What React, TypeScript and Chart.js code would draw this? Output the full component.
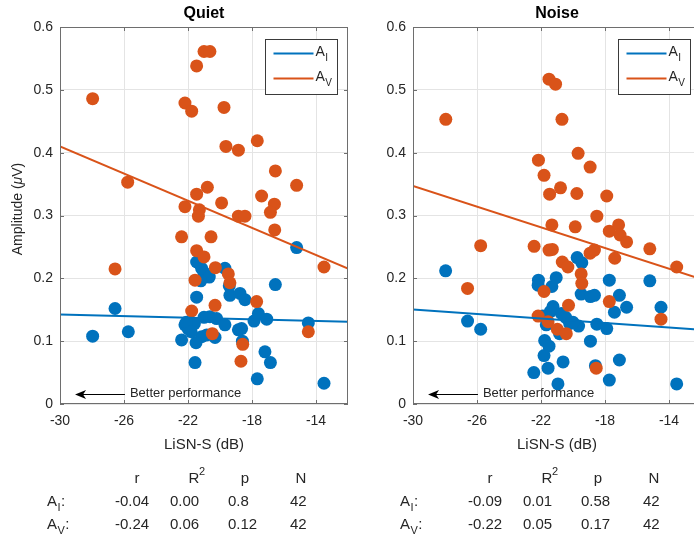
import React, { useEffect, useRef } from "react";
import { Chart, registerables } from "chart.js";
Chart.register(...registerables);

const xTicks = [-30, -26, -22, -18, -14];
const yTicks = [0, 0.1, 0.2, 0.3, 0.4, 0.5, 0.6];
const xRange = [-30, -12];
const yRange = [0, 0.6];

const quietAI: number[][] = [
  [-27.96, 0.108], [-26.56, 0.152], [-25.73, 0.115], [-21.46, 0.226], [-21.15, 0.216], [-21.0, 0.209],
  [-20.67, 0.202], [-21.2, 0.196], [-19.69, 0.216], [-19.42, 0.188], [-19.38, 0.173], [-18.75, 0.176],
  [-18.44, 0.166], [-21.46, 0.17], [-16.54, 0.19], [-15.21, 0.249], [-22.19, 0.126], [-22.0, 0.12],
  [-21.6, 0.128], [-21.0, 0.138], [-20.63, 0.139], [-20.21, 0.136], [-19.69, 0.126], [-20.83, 0.11],
  [-21.15, 0.107], [-20.31, 0.106], [-22.4, 0.102], [-21.5, 0.0975], [-21.56, 0.066], [-18.85, 0.118],
  [-18.65, 0.12], [-17.875, 0.132], [-17.6, 0.144], [-17.08, 0.135], [-17.19, 0.083], [-16.85, 0.066],
  [-17.67, 0.04], [-13.5, 0.033], [-14.48, 0.129], [-18.6, 0.1], [-22.1, 0.13], [-21.8, 0.115],
];
const quietAV: number[][] = [
  [-27.96, 0.486], [-25.77, 0.353], [-21.46, 0.538], [-21.0, 0.561], [-20.63, 0.561], [-22.19, 0.479],
  [-21.77, 0.466], [-19.75, 0.472], [-19.63, 0.41], [-18.85, 0.404], [-17.67, 0.419], [-16.54, 0.371],
  [-15.21, 0.348], [-20.79, 0.345], [-21.46, 0.334], [-22.19, 0.314], [-19.9, 0.32], [-21.29, 0.309],
  [-17.4, 0.331], [-16.6, 0.318], [-16.85, 0.305], [-18.85, 0.299], [-18.44, 0.299], [-21.35, 0.299],
  [-16.58, 0.277], [-22.4, 0.266], [-20.56, 0.266], [-21.46, 0.244], [-21.0, 0.234], [-20.29, 0.217],
  [-19.48, 0.207], [-19.38, 0.193], [-21.56, 0.197], [-26.56, 0.215], [-17.71, 0.163], [-21.77, 0.148],
  [-20.31, 0.157], [-20.48, 0.112], [-18.58, 0.095], [-18.69, 0.068], [-14.48, 0.115], [-13.5, 0.218],
];
const noiseAI: number[][] = [
  [-27.96, 0.212], [-26.59, 0.132], [-25.77, 0.119], [-22.16, 0.197], [-22.18, 0.189], [-21.32, 0.187],
  [-21.05, 0.201], [-19.74, 0.233], [-19.45, 0.225], [-19.49, 0.175], [-18.91, 0.171], [-18.66, 0.173],
  [-17.73, 0.197], [-17.1, 0.173], [-16.65, 0.154], [-17.41, 0.146], [-15.2, 0.196], [-14.5, 0.154],
  [-13.52, 0.032], [-21.25, 0.155], [-21.42, 0.147], [-20.73, 0.144], [-20.46, 0.138], [-21.67, 0.126],
  [-20.21, 0.128], [-19.65, 0.124], [-18.51, 0.127], [-17.89, 0.12], [-21.77, 0.101], [-21.5, 0.092],
  [-20.84, 0.112], [-18.91, 0.1], [-21.81, 0.077], [-21.56, 0.057], [-22.45, 0.05], [-20.62, 0.067],
  [-20.94, 0.032], [-17.1, 0.07], [-17.73, 0.038], [-18.6, 0.061], [-21.9, 0.14], [-20.0, 0.13],
];
const noiseAV: number[][] = [
  [-27.95, 0.453], [-21.5, 0.517], [-21.09, 0.509], [-20.69, 0.453], [-22.16, 0.388], [-21.81, 0.364],
  [-21.46, 0.334], [-20.78, 0.344], [-19.68, 0.399], [-18.93, 0.377], [-19.76, 0.335], [-17.89, 0.331],
  [-18.51, 0.299], [-21.32, 0.285], [-19.86, 0.282], [-17.73, 0.275], [-17.15, 0.285], [-17.06, 0.269],
  [-16.65, 0.258], [-22.43, 0.251], [-21.5, 0.245], [-21.29, 0.246], [-25.77, 0.252], [-18.93, 0.24],
  [-18.66, 0.245], [-17.39, 0.232], [-15.2, 0.247], [-13.52, 0.218], [-20.67, 0.226], [-20.32, 0.218],
  [-19.49, 0.207], [-19.45, 0.192], [-26.59, 0.184], [-21.81, 0.179], [-17.73, 0.163], [-20.28, 0.157],
  [-22.18, 0.14], [-21.56, 0.131], [-20.98, 0.119], [-20.42, 0.112], [-14.5, 0.135], [-18.55, 0.057],
];

const fitX = [-30, -12];
const quietAIFit = [0.1425, 0.131];
const quietAVFit = [0.41, 0.2157];
const noiseAIFit = [0.1505, 0.118];
const noiseAVFit = [0.347, 0.199];

const statHeaders = ["r", "R", "p", "N"];
const quietStatsAI = ["-0.04", "0.00", "0.8", "42"];
const quietStatsAV = ["-0.24", "0.06", "0.12", "42"];
const noiseStatsAI = ["-0.09", "0.01", "0.58", "42"];
const noiseStatsAV = ["-0.22", "0.05", "0.17", "42"];

const BLUE = "#0072BD";
const ORANGE = "#D95319";
const TEXT = "#262626";
const AXIS = "#6e6e6e";
const GRID = "#e4e4e4";
const FF = '"Liberation Sans", Arial, Helvetica, sans-serif';
const f = (size: number, weight = "normal", style = "normal") => `${style} ${weight} ${size}px ${FF}`;

function subText(ctx: CanvasRenderingContext2D, x: number, y: number, main: string, sub: string, size: number, subSize: number, tail = "") {
  ctx.textAlign = "left";
  ctx.textBaseline = "middle";
  ctx.font = f(size);
  ctx.fillText(main, x, y);
  let cx = x + ctx.measureText(main).width;
  ctx.font = f(subSize);
  ctx.fillText(sub, cx + 0.5, y + size * 0.4);
  cx += ctx.measureText(sub).width + 1;
  if (tail) {
    ctx.font = f(size);
    ctx.fillText(tail, cx, y);
  }
}

function makePlugin(opts: any) {
  return {
    id: "decor",
    afterDraw(chart: any) {
      const { ctx, chartArea: ca, scales } = chart;
      const xs = scales.x, ys = scales.y;
      ctx.save();
      // box
      ctx.strokeStyle = AXIS;
      ctx.lineWidth = 1;
      ctx.strokeRect(Math.round(ca.left) + 0.5, Math.round(ca.top) + 0.5, Math.round(ca.width) - 1, Math.round(ca.height) - 1);
      // inner ticks
      ctx.beginPath();
      xTicks.forEach((v) => {
        const px = Math.round(xs.getPixelForValue(v)) + 0.5;
        ctx.moveTo(px, ca.bottom); ctx.lineTo(px, ca.bottom - 4);
        ctx.moveTo(px, ca.top); ctx.lineTo(px, ca.top + 4);
      });
      yTicks.forEach((v) => {
        const py = Math.round(ys.getPixelForValue(v)) + 0.5;
        ctx.moveTo(ca.left, py); ctx.lineTo(ca.left + 4, py);
        ctx.moveTo(ca.right, py); ctx.lineTo(ca.right - 4, py);
      });
      ctx.stroke();

      const cx = (ca.left + ca.right) / 2;
      ctx.fillStyle = "#000";
      // title
      ctx.font = f(16, "bold");
      ctx.textAlign = "center";
      ctx.textBaseline = "middle";
      ctx.fillText(opts.title, cx, ca.top - 13);
      // x label
      ctx.fillStyle = TEXT;
      ctx.font = f(15);
      ctx.fillText("LiSN-S (dB)", cx, 445);
      // y label
      if (opts.showYLabel) {
        ctx.save();
        ctx.translate(18, 209);
        ctx.rotate(-Math.PI / 2);
        const p1 = "Amplitude (", p2 = "\u03BC", p3 = "V)";
        ctx.font = f(14);
        const w1 = ctx.measureText(p1).width;
        const w3 = ctx.measureText(p3).width;
        ctx.font = f(14, "normal", "italic");
        const w2 = ctx.measureText(p2).width;
        let sx = -(w1 + w2 + w3) / 2;
        ctx.textAlign = "left";
        ctx.font = f(14);
        ctx.fillText(p1, sx, 0);
        ctx.font = f(14, "normal", "italic");
        ctx.fillText(p2, sx + w1, 0);
        ctx.font = f(14);
        ctx.fillText(p3, sx + w1 + w2, 0);
        ctx.restore();
      }
      // legend
      const lw = 72, lh = 55;
      const lx = Math.round(ca.right - 11 - lw) + 0.5, ly = Math.round(ca.top + 12) + 0.5;
      ctx.fillStyle = "#fff";
      ctx.fillRect(lx, ly, lw, lh);
      ctx.strokeStyle = "#3a3a3a";
      ctx.lineWidth = 1;
      ctx.strokeRect(lx, ly, lw, lh);
      [[BLUE, "I", 14], [ORANGE, "V", 39]].forEach(([c, s, dy]: any) => {
        ctx.strokeStyle = c;
        ctx.lineWidth = 2;
        ctx.beginPath();
        ctx.moveTo(lx + 8, ly + dy);
        ctx.lineTo(lx + 48, ly + dy);
        ctx.stroke();
        ctx.fillStyle = TEXT;
        subText(ctx, lx + 50, ly + dy - 1, "A", s, 14, 10);
      });
      // arrow + annotation
      const ay = Math.round(ys.getPixelForValue(0.016)) + 0.5;
      const ax1 = xs.getPixelForValue(-29.06);
      const ax2 = xs.getPixelForValue(-25.94);
      ctx.strokeStyle = "#000";
      ctx.lineWidth = 1;
      ctx.beginPath();
      ctx.moveTo(ax1 + 6, ay);
      ctx.lineTo(ax2, ay);
      ctx.stroke();
      ctx.fillStyle = "#000";
      ctx.beginPath();
      ctx.moveTo(ax1, ay);
      ctx.lineTo(ax1 + 11, ay - 4.5);
      ctx.lineTo(ax1 + 8, ay);
      ctx.lineTo(ax1 + 11, ay + 4.5);
      ctx.closePath();
      ctx.fill();
      ctx.fillStyle = TEXT;
      ctx.font = f(13);
      ctx.textAlign = "left";
      ctx.textBaseline = "middle";
      ctx.fillText("Better performance", xs.getPixelForValue(-25.63), ay - 1);
      // stats table
      ctx.fillStyle = TEXT;
      const colX = [115, 170, 228, 290];
      const headX = [137, 194, 245, 301];
      ctx.font = f(15);
      ctx.textAlign = "center";
      statHeaders.forEach((h, i) => ctx.fillText(h, headX[i], 479));
      ctx.font = f(11);
      ctx.textAlign = "left";
      ctx.fillText("2", headX[1] + 5, 472);
      const rows = [["I", opts.statsAI, 502], ["V", opts.statsAV, 525]];
      rows.forEach(([s, vals, y]: any) => {
        subText(ctx, 47, y, "A", s, 15, 11, ":");
        ctx.font = f(15);
        ctx.textAlign = "left";
        vals.forEach((v: string, i: number) => ctx.fillText(v, colX[i], y));
      });
      ctx.restore();
    },
  };
}

function Panel(props: any) {
  const ref = useRef<HTMLCanvasElement>(null);
  useEffect(() => {
    const toPts = (a: number[][]) => a.map(([x, y]) => ({ x, y }));
    const fitPts = (fy: number[]) => fitX.map((x, i) => ({ x, y: fy[i] }));
    const chart = new Chart(ref.current!, {
      type: "scatter",
      data: {
        datasets: [
          { label: "AI pts", data: toPts(props.ai), backgroundColor: BLUE, borderColor: BLUE, borderWidth: 0, pointRadius: 6.5, order: 4 },
          { label: "AV pts", data: toPts(props.av), backgroundColor: ORANGE, borderColor: ORANGE, borderWidth: 0, pointRadius: 6.5, order: 3 },
          { type: "line", label: "AI", data: fitPts(props.aiFit), borderColor: BLUE, borderWidth: 2, pointRadius: 0, showLine: true, fill: false, order: 2 } as any,
          { type: "line", label: "AV", data: fitPts(props.avFit), borderColor: ORANGE, borderWidth: 2, pointRadius: 0, showLine: true, fill: false, order: 1 } as any,
        ],
      },
      options: {
        animation: false,
        responsive: false,
        devicePixelRatio: 1,
        layout: { padding: { left: 0, right: 22, top: 27, bottom: 103 } },
        plugins: { legend: { display: false }, tooltip: { enabled: false } },
        scales: {
          x: {
            type: "linear",
            min: xRange[0],
            max: xRange[1],
            afterBuildTicks: (s: any) => { s.ticks = xTicks.map((value) => ({ value })); },
            afterFit: (s: any) => { s.height = 30; },
            grid: { color: GRID, drawTicks: false },
            border: { display: false },
            ticks: { color: TEXT, font: { family: FF, size: 14 }, padding: 9, callback: (v: any) => String(v) },
          },
          y: {
            type: "linear",
            min: yRange[0],
            max: yRange[1],
            afterBuildTicks: (s: any) => { s.ticks = yTicks.map((value) => ({ value })); },
            afterFit: (s: any) => { s.width = 60; },
            grid: { color: GRID, drawTicks: false },
            border: { display: false },
            ticks: { color: TEXT, font: { family: FF, size: 14 }, padding: 7, callback: (v: any) => (v === 0 ? "0" : Number(v).toFixed(1)) },
          },
        },
      },
      plugins: [makePlugin(props)],
    } as any);
    return () => chart.destroy();
  }, []);
  return <canvas ref={ref} width={370} height={537} style={{ position: "absolute", left: props.left, top: 0 }} />;
}

export default function App() {
  return (
    <div style={{ position: "fixed", left: 0, top: 0, width: 694, height: 537, overflow: "hidden", background: "#fff" }}>
      <Panel left={0} title="Quiet" ai={quietAI} av={quietAV} aiFit={quietAIFit} avFit={quietAVFit} statsAI={quietStatsAI} statsAV={quietStatsAV} showYLabel={true} />
      <Panel left={353} title="Noise" ai={noiseAI} av={noiseAV} aiFit={noiseAIFit} avFit={noiseAVFit} statsAI={noiseStatsAI} statsAV={noiseStatsAV} showYLabel={false} />
    </div>
  );
}
